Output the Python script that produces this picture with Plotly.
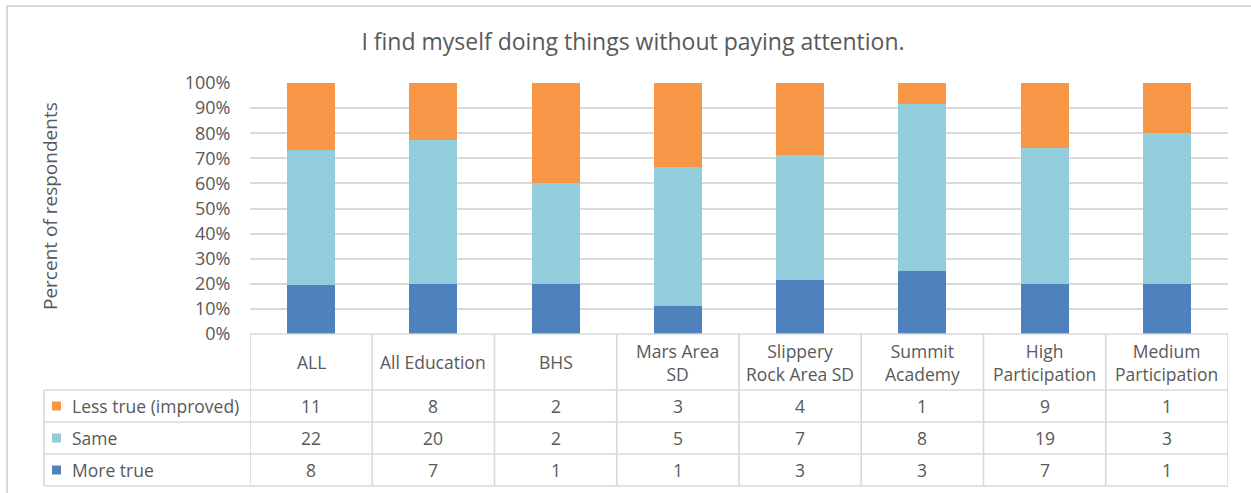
import plotly.graph_objects as go

# Survey groups and counts of responses per answer
categories = ["ALL", "All Education", "BHS", "Mars Area SD", "Slippery Rock Area SD",
              "Summit Academy", "High Participation", "Medium Participation"]
header_labels = ["ALL", "All Education", "BHS", "Mars Area<br>SD", "Slippery<br>Rock Area SD",
                 "Summit<br>Academy", "High<br>Participation", "Medium<br>Participation"]
less_true = [11, 8, 2, 3, 4, 1, 9, 1]
same = [22, 20, 2, 5, 7, 8, 19, 3]
more_true = [8, 7, 1, 1, 3, 3, 7, 1]

series_names = ["Less true (improved)", "Same", "More true"]
series_values = [less_true, same, more_true]
series_colors = ["#F79646", "#92CDDC", "#4F81BD"]

TEXT = "#595959"
GRID = "#D9D9D9"
FONT = "Open Sans"

W, H = 1251, 493
ML, MR, MT, MB = 250, 23, 83, 159
PW, PH = W - ML - MR, H - MT - MB


def px(x):
    return (x - ML) / PW


def py(y):
    return (H - MB - y) / PH


fig = go.Figure()
# stacked from the bottom: More true, Same, Less true
for name, vals, col in reversed(list(zip(series_names, series_values, series_colors))):
    fig.add_trace(go.Bar(x=categories, y=vals, name=name, marker_color=col,
                         marker_line_width=0))

shapes = []
annotations = []
n = len(categories)

# outer chart frame
shapes.append(dict(type="rect", xref="paper", yref="paper", x0=px(7), x1=px(1300),
                   y0=py(560), y1=py(6), line=dict(color=GRID, width=2), layer="below"))

# data table grid
row_tops = [334, 390, 422, 454, 486]
shapes.append(dict(type="line", xref="x", yref="paper", x0=-0.5, x1=n - 0.5,
                   y0=py(row_tops[0]), y1=py(row_tops[0]), line=dict(color=GRID, width=1.6)))
for yy in row_tops[1:]:
    shapes.append(dict(type="line", xref="paper", yref="paper", x0=px(44), x1=1,
                       y0=py(yy), y1=py(yy), line=dict(color=GRID, width=1.6)))
shapes.append(dict(type="line", xref="paper", yref="paper", x0=px(44), x1=px(44),
                   y0=py(390), y1=py(486), line=dict(color=GRID, width=1.6)))
for k in range(n + 1):
    shapes.append(dict(type="line", xref="x", yref="paper", x0=k - 0.5, x1=k - 0.5,
                       y0=py(334), y1=py(486), line=dict(color=GRID, width=1.6)))

# header row with the group names
for cat, lab in zip(categories, header_labels):
    annotations.append(dict(x=cat, xref="x", y=py(362), yref="paper", text=lab,
                            showarrow=False, xanchor="center", yanchor="middle",
                            font=dict(family=FONT, size=17.5, color=TEXT)))

# value rows with legend keys
row_centers = [406, 438, 470]
for name, vals, col, yc in zip(series_names, series_values, series_colors, row_centers):
    shapes.append(dict(type="rect", xref="paper", yref="paper", x0=px(52), x1=px(61),
                       y0=py(yc + 4.5), y1=py(yc - 4.5), fillcolor=col, line=dict(width=0)))
    annotations.append(dict(x=px(70), xref="paper", y=py(yc), yref="paper", text=name,
                            showarrow=False, xanchor="left", yanchor="middle",
                            font=dict(family=FONT, size=17.5, color=TEXT)))
    for cat, v in zip(categories, vals):
        annotations.append(dict(x=cat, xref="x", y=py(yc), yref="paper", text=str(v),
                                showarrow=False, xanchor="center", yanchor="middle",
                                font=dict(family=FONT, size=17.5, color=TEXT)))

# vertical axis title
annotations.append(dict(x=px(50), xref="paper", y=py(206), yref="paper",
                        text="Percent of respondents", textangle=-90, showarrow=False,
                        xanchor="center", yanchor="middle",
                        font=dict(family=FONT, size=19, color=TEXT)))

fig.update_layout(
    width=W, height=H,
    margin=dict(l=ML, r=MR, t=MT, b=MB, autoexpand=False),
    paper_bgcolor="white", plot_bgcolor="white",
    barmode="stack", barnorm="percent", bargap=0.607,
    showlegend=False,
    title=dict(text="I find myself doing things without paying attention.",
               x=px(633), xref="paper", xanchor="center",
               y=1 - 42 / H, yref="container", yanchor="middle",
               font=dict(family=FONT, size=23, color=TEXT)),
    xaxis=dict(type="category", range=[-0.5, n - 0.5], showticklabels=False,
               showgrid=False, zeroline=False, showline=False, ticks=""),
    yaxis=dict(range=[0, 100], dtick=10, ticksuffix="%", showgrid=True,
               gridcolor=GRID, gridwidth=1.6, zeroline=False, showline=False,
               ticks="outside", ticklen=15, tickcolor="rgba(0,0,0,0)",
               tickfont=dict(family=FONT, size=18, color=TEXT)),
    shapes=shapes,
    annotations=annotations,
)

fig.write_html("out.html")
